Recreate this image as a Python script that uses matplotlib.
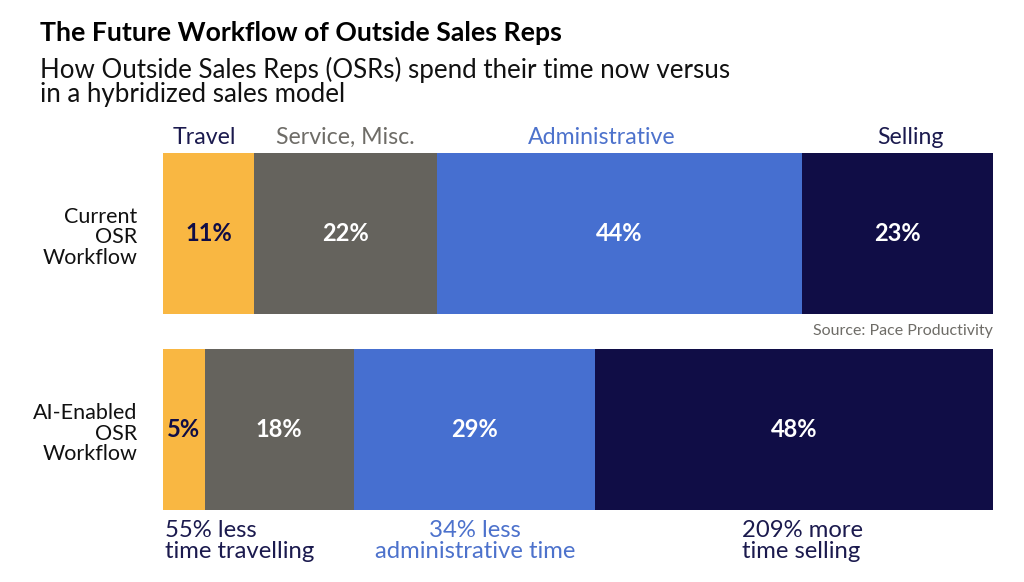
import matplotlib.pyplot as plt

rows = ["AI-Enabled\nOSR\nWorkflow", "Current\nOSR\nWorkflow"]
categories = ["Travel", "Service, Misc.", "Administrative", "Selling"]
current = [11, 22, 44, 23]
ai_enabled = [5, 18, 29, 48]
notes = ["55% less\ntime travelling", "34% less\nadministrative time", "209% more\ntime selling"]

colors = ["#F9B742", "#65635D", "#466FD0", "#100D46"]
label_colors = ["#1B1A4E", "#6E6C67", "#4D72CC", "#1B1A4E"]
pct_colors = ["#100D46", "white", "white", "white"]

plt.rcParams['font.family'] = ['Lato', 'DejaVu Sans']

fig = plt.figure(figsize=(10.24, 5.82), dpi=100)
ax = fig.add_axes([163 / 1024, (582 - 510) / 582, 830 / 1024, (510 - 153) / 582])

for y, vals in [(1, current), (0, ai_enabled)]:
    left = 0
    for i, v in enumerate(vals):
        ax.barh(y, v, left=left, height=0.82, color=colors[i], linewidth=0)
        ax.text(left + v / 2, y, f"{v}%", ha="center", va="center",
                fontsize=17, fontweight="bold", color=pct_colors[i])
        left += v

ax.set_xlim(0, 100)
ax.set_ylim(-0.41, 1.41)
ax.axis("off")

# category labels above the top bar
cat_x = [5, 22, 52.9, 90.0]
for x, name, c in zip(cat_x, categories, label_colors):
    ax.text(x, 1.49, name, ha="center", va="center", fontsize=16.7, color=c)

# row labels
for y, name in [(1, rows[1]), (0, rows[0])]:
    ax.text(-3.1, y - 0.02, name, ha="right", va="center", fontsize=15.5,
            color="#111111", linespacing=1.05)

ax.text(100, 0.5, "Source: Pace Productivity", ha="right", va="center",
        fontsize=11.5, color="#6E6C67")

# change notes below the bottom bar
ax.text(0.2, -0.57, notes[0], ha="left", va="center", fontsize=17.2,
        color="#1B1A4E", linespacing=1.0)
ax.text(37.6, -0.57, notes[1], ha="center", va="center", fontsize=17.2,
        color="#4D72CC", linespacing=1.0, multialignment="center")
ax.text(69.7, -0.57, notes[2], ha="left", va="center", fontsize=17.2,
        color="#1B1A4E", linespacing=1.0)

fig.text(40 / 1024, 1 - 33 / 582, "The Future Workflow of Outside Sales Reps",
         ha="left", va="center", fontsize=19.2, fontweight="bold", color="black")
fig.text(40 / 1024, 1 - 82 / 582,
         "How Outside Sales Reps (OSRs) spend their time now versus\nin a hybridized sales model",
         ha="left", va="center", fontsize=18.6, color="#111111", linespacing=0.93)

fig.savefig("out.png", dpi=100)
